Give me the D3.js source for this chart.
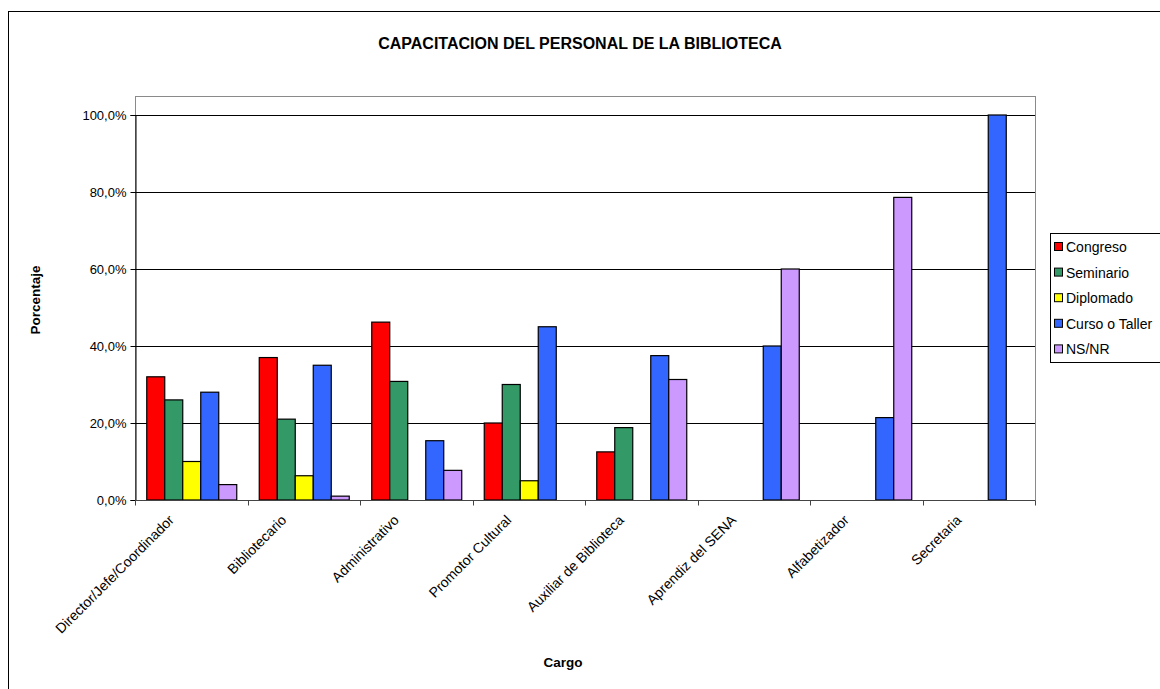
<!DOCTYPE html>
<html>
<head>
<meta charset="utf-8">
<script src="https://cdn.jsdelivr.net/npm/d3@7"></script>
<style>
  body { margin: 0; background: #fff; }
  svg { display: block; font-family: "Liberation Sans", Arial, sans-serif; }
</style>
</head>
<body>
<svg id="chart" width="1160" height="689"></svg>
<script>
const categories = ["Director/Jefe/Coordinador", "Bibliotecario", "Administrativo", "Promotor Cultural",
  "Auxiliar de Biblioteca", "Aprendiz del SENA", "Alfabetizador", "Secretaria"];
const seriesNames = ["Congreso", "Seminario", "Diplomado", "Curso o Taller", "NS/NR"];
const congreso  = [32, 37, 46.2, 20, 12.5, 0, 0, 0];
const seminario = [26, 21, 30.8, 30, 18.8, 0, 0, 0];
const diplomado = [10, 6.3, 0, 5, 0, 0, 0, 0];
const curso     = [28, 35, 15.4, 45, 37.5, 40, 21.4, 100];
const nsnr      = [4, 1, 7.7, 0, 31.3, 60, 78.6, 0];
const yTicks = [0, 20, 40, 60, 80, 100];
const colors = ["#FF0000", "#339966", "#FFFF00", "#3366FF", "#CC99FF"];

const seriesValues = [congreso, seminario, diplomado, curso, nsnr];

const svg = d3.select("#chart");
const plot = { left: 135, right: 1035, top: 96, bottom: 500 };

// outer chart border
svg.append("rect").attr("x", 8.5).attr("y", 11.5).attr("width", 1160).attr("height", 700)
  .attr("fill", "#fff").attr("stroke", "#000").attr("stroke-width", 1);

// title
svg.append("text").attr("x", 580).attr("y", 49).attr("text-anchor", "middle")
  .attr("font-size", 16).attr("font-weight", "bold").text("CAPACITACION DEL PERSONAL DE LA BIBLIOTECA");

const x0 = d3.scaleBand().domain(categories).range([plot.left, plot.right]).paddingInner(0).paddingOuter(0);
const bw = x0.bandwidth();
const x1 = d3.scaleBand().domain(seriesNames).range([bw * 0.1, bw * 0.9]).paddingInner(0).paddingOuter(0);
const y = d3.scaleLinear().domain([0, 100]).range([plot.bottom, 115]);

// plot area border
svg.append("rect").attr("x", plot.left + 0.5).attr("y", plot.top + 0.5)
  .attr("width", plot.right - plot.left).attr("height", plot.bottom - plot.top)
  .attr("fill", "#fff").attr("stroke", "#8a8a8a").attr("stroke-width", 1);

// gridlines
svg.append("g").selectAll("line").data(yTicks.filter(d => d > 0)).join("line")
  .attr("x1", plot.left).attr("x2", plot.right)
  .attr("y1", d => Math.round(y(d)) + 0.5).attr("y2", d => Math.round(y(d)) + 0.5)
  .attr("stroke", "#000").attr("stroke-width", 1);

// bars
const groups = svg.append("g").selectAll("g").data(categories).join("g")
  .attr("transform", d => `translate(${x0(d)},0)`);
groups.selectAll("rect")
  .data((c, ci) => seriesNames.map((s, si) => ({ s, si, v: seriesValues[si][ci] })).filter(d => d.v > 0))
  .join("rect")
  .attr("x", d => x1(d.s) + 0.5)
  .attr("y", d => y(d.v))
  .attr("width", x1.bandwidth())
  .attr("height", d => y(0) - y(d.v))
  .attr("fill", d => colors[d.si])
  .attr("stroke", "#000").attr("stroke-width", 1.2);

// y axis
const yAxis = d3.axisLeft(y).tickValues(yTicks).tickSize(5).tickPadding(4)
  .tickFormat(d => d3.format(".1f")(d).replace(".", ",") + "%");
const ga = svg.append("g").attr("transform", `translate(${plot.left + 0.5},0)`).call(yAxis);
ga.select(".domain").attr("stroke", "#000");
ga.selectAll(".tick line").attr("stroke", "#000");
ga.selectAll("text").attr("font-size", 13).attr("fill", "#000").attr("font-family", "Liberation Sans, Arial, sans-serif");

// x axis
const gx = svg.append("g").attr("transform", `translate(0,${plot.bottom + 0.5})`);
gx.append("line").attr("x1", plot.left).attr("x2", plot.right).attr("stroke", "#444");
const bounds = categories.map(c => x0(c)).concat([plot.right]);
gx.selectAll("line.tk").data(bounds).join("line").attr("class", "tk")
  .attr("x1", d => Math.round(d) + 0.5).attr("x2", d => Math.round(d) + 0.5)
  .attr("y1", 0).attr("y2", 5).attr("stroke", "#444");
gx.selectAll("text").data(categories).join("text")
  .attr("transform", d => `translate(${x0(d) + bw / 2 - 20},${17}) rotate(-45)`)
  .attr("text-anchor", "end").attr("dy", "0.35em")
  .attr("font-size", 14).text(d => d);

// axis titles
svg.append("text").attr("x", 563).attr("y", 667).attr("text-anchor", "middle")
  .attr("font-size", 13.5).attr("font-weight", "bold").text("Cargo");
svg.append("text").attr("transform", `translate(40,${300}) rotate(-90)`).attr("text-anchor", "middle")
  .attr("font-size", 13.5).attr("font-weight", "bold").text("Porcentaje");

// legend
const lg = svg.append("g");
lg.append("rect").attr("x", 1050.5).attr("y", 233.5).attr("width", 130).attr("height", 129)
  .attr("fill", "#fff").attr("stroke", "#000");
const items = lg.selectAll("g").data(seriesNames).join("g")
  .attr("transform", (d, i) => `translate(0,${247 + i * 25.6})`);
items.append("rect").attr("x", 1054.5).attr("y", -4.5).attr("width", 8).attr("height", 8)
  .attr("fill", (d, i) => colors[i]).attr("stroke", "#000");
items.append("text").attr("x", 1066).attr("y", 0).attr("dy", "0.35em")
  .attr("font-size", 14).text(d => d);
</script>
</body>
</html>
